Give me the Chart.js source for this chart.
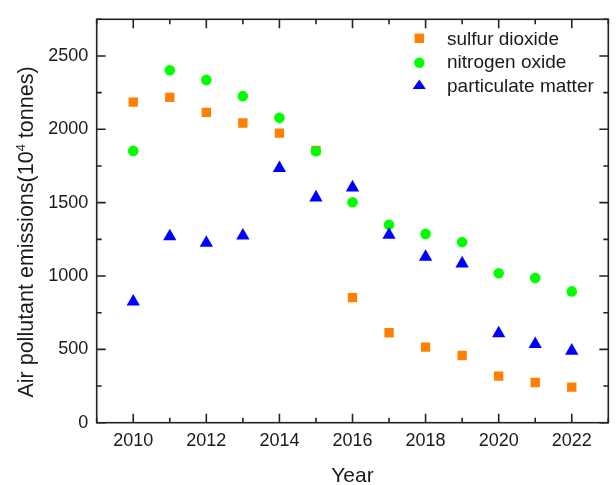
<!DOCTYPE html>
<html>
<head>
<meta charset="utf-8">
<script src="https://cdn.jsdelivr.net/npm/chart.js"></script>
<style>
  html, body { margin: 0; padding: 0; background: #fff; }
  #wrap { width: 616px; height: 485px; }
</style>
</head>
<body>
<div id="wrap"><canvas id="chart" width="616" height="485"></canvas></div>
<script>
// values (10^4 tonnes)
const years = [2010, 2011, 2012, 2013, 2014, 2015, 2016, 2017, 2018, 2019, 2020, 2021, 2022];
const sulfurDioxide = [2185, 2218, 2115, 2043, 1974, 1857, 853, 613, 515, 458, 318, 274, 243];
const nitrogenOxide = [1853, 2403, 2337, 2226, 2078, 1850, 1503, 1349, 1287, 1231, 1019, 986, 895];
const particulateMatter = [825, 1270, 1225, 1275, 1735, 1535, 1603, 1280, 1130, 1085, 608, 535, 490];
const seriesNames = ['sulfur dioxide', 'nitrogen oxide', 'particulate matter'];
const xTicks = [2010, 2012, 2014, 2016, 2018, 2020, 2022];
const yTicks = [0, 500, 1000, 1500, 2000, 2500];
const xTitle = 'Year';
const yTitleParts = ['Air pollutant emissions(10', '4', ' tonnes)'];

const FONT = '"Liberation Sans", Arial, sans-serif';
const INK = '#1a1a1a';

const toPoints = vals => vals.map((v, i) => ({ x: years[i], y: v }));

// box, inward ticks, axis titles and legend
const frame = {
  id: 'frame',
  beforeDatasetsDraw(chart) {
    const { ctx, chartArea: a, scales: { x, y } } = chart;
    ctx.save();
    ctx.strokeStyle = '#222';
    ctx.lineWidth = 1.6;
    ctx.strokeRect(a.left, a.top, a.right - a.left, a.bottom - a.top);
    ctx.beginPath();
    for (let v = x.min; v <= x.max; v++) {
      const len = xTicks.includes(v) ? 9 : 5;
      const px = x.getPixelForValue(v);
      ctx.moveTo(px, a.bottom); ctx.lineTo(px, a.bottom - len);
      ctx.moveTo(px, a.top); ctx.lineTo(px, a.top + len);
    }
    for (let v = y.min; v <= y.max; v += 250) {
      const len = yTicks.includes(v) ? 9 : 5;
      const py = y.getPixelForValue(v);
      ctx.moveTo(a.left, py); ctx.lineTo(a.left + len, py);
      ctx.moveTo(a.right, py); ctx.lineTo(a.right - len, py);
    }
    ctx.stroke();

    ctx.fillStyle = INK;
    ctx.textBaseline = 'alphabetic';
    ctx.textAlign = 'center';
    ctx.font = '21px ' + FONT;
    ctx.fillText(xTitle, (a.left + a.right) / 2, 481.5);

    // y title with a real superscript
    const big = '21.5px ' + FONT, small = '13px ' + FONT;
    ctx.textAlign = 'left';
    ctx.font = big; const w1 = ctx.measureText(yTitleParts[0]).width;
    ctx.font = small; const w2 = ctx.measureText(yTitleParts[1]).width;
    ctx.font = big; const w3 = ctx.measureText(yTitleParts[2]).width;
    const total = w1 + w2 + w3;
    ctx.translate(33, 232);
    ctx.rotate(-Math.PI / 2);
    let cx = -total / 2;
    ctx.font = big; ctx.fillText(yTitleParts[0], cx, 0); cx += w1;
    ctx.font = small; ctx.fillText(yTitleParts[1], cx, -8); cx += w2;
    ctx.font = big; ctx.fillText(yTitleParts[2], cx, 0);
    ctx.restore();
  },
  afterDatasetsDraw(chart) {
    const { ctx } = chart;
    const rows = [38.3, 62.7, 85.5];
    const baselines = [45, 68.3, 91.7];
    ctx.save();
    chart.data.datasets.forEach((ds, i) => {
      const cx = 419.3, cy = rows[i];
      ctx.fillStyle = ds.backgroundColor;
      ctx.beginPath();
      if (ds.pointStyle === 'rect') {
        ctx.rect(cx - 4.7, cy - 4.7, 9.4, 9.4);
      } else if (ds.pointStyle === 'circle') {
        ctx.arc(cx, cy, 5.2, 0, Math.PI * 2);
      } else {
        const r = 7.6;
        ctx.moveTo(cx, cy - r + 1.5);
        ctx.lineTo(cx + r * 0.866, cy + r / 2 - 0.4);
        ctx.lineTo(cx - r * 0.866, cy + r / 2 - 0.4);
        ctx.closePath();
      }
      ctx.fill();
      ctx.fillStyle = INK;
      ctx.font = '19px ' + FONT;
      ctx.textAlign = 'left';
      ctx.textBaseline = 'alphabetic';
      ctx.fillText(ds.label, 447, baselines[i]);
    });
    ctx.restore();
  }
};

new Chart(document.getElementById('chart'), {
  type: 'scatter',
  data: {
    datasets: [
      { label: seriesNames[0], data: toPoints(sulfurDioxide), pointStyle: 'rect', pointRadius: 6.6,
        backgroundColor: '#FF8000', borderWidth: 0, order: 3 },
      { label: seriesNames[1], data: toPoints(nitrogenOxide), pointStyle: 'circle', pointRadius: 5.3,
        backgroundColor: '#00FF00', borderWidth: 0, order: 2 },
      { label: seriesNames[2], data: toPoints(particulateMatter), pointStyle: 'triangle', pointRadius: 7.7,
        backgroundColor: '#0000FF', borderWidth: 0, order: 1 }
    ]
  },
  options: {
    responsive: false,
    animation: false,
    devicePixelRatio: 1,
    layout: { padding: { top: 7.3, right: 4.3, left: 0, bottom: 0 } },
    plugins: { legend: { display: false }, tooltip: { enabled: false } },
    elements: { point: { hoverRadius: 0 } },
    scales: {
      x: {
        type: 'linear', min: 2009, max: 2023,
        grid: { display: false, drawTicks: false },
        border: { display: false },
        afterBuildTicks: s => { s.ticks = xTicks.map(v => ({ value: v })); },
        afterFit: s => { s.height = 62.3; },
        ticks: { padding: 8, color: INK, font: { family: FONT, size: 18 }, callback: v => String(v) }
      },
      y: {
        min: 0, max: 2750,
        grid: { display: false, drawTicks: false },
        border: { display: false },
        afterBuildTicks: s => { s.ticks = yTicks.map(v => ({ value: v })); },
        afterFit: s => { s.width = 96.7; },
        ticks: { padding: 8.5, color: INK, font: { family: FONT, size: 18 }, callback: v => String(v) }
      }
    }
  },
  plugins: [frame]
});
</script>
</body>
</html>
